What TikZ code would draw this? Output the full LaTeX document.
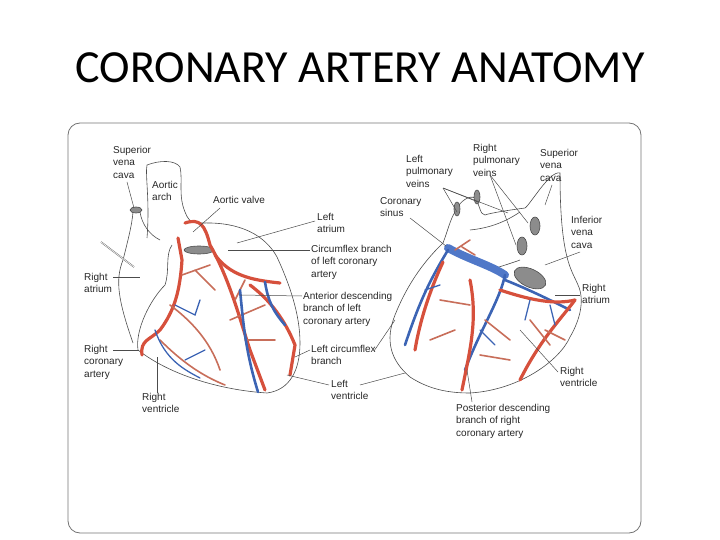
\documentclass[tikz,border=0pt]{standalone}
\usepackage{fontspec}
\setmainfont{Liberation Sans}
\newfontfamily\titlefont{Carlito}
\begin{document}
\begin{tikzpicture}[x=1pt,y=-1pt,
  lbl/.style={anchor=north west,align=left,font=\fontsize{10}{12.3}\selectfont,inner sep=0pt,text=black!85},
  lead/.style={black!70,line width=0.5pt},
  outl/.style={black!70,line width=0.6pt},
  art/.style={line width=3.2pt,line cap=round,line join=round,color={rgb,255:red,214;green,80;blue,60}},
  artt/.style={line width=1.6pt,line cap=round,color={rgb,255:red,200;green,110;blue,90}},
  vein/.style={line width=2.6pt,line cap=round,line join=round,color={rgb,255:red,60;green,100;blue,180}},
  veint/.style={line width=1.3pt,line cap=round,color={rgb,255:red,60;green,100;blue,180}},
  hole/.style={draw=black!70,fill=black!45,line width=0.6pt}]
\useasboundingbox (0,0) rectangle (720,540);
\node[font=\titlefont\fontsize{46}{48}\selectfont] (title) at (360,68) {CORONARY ARTERY ANATOMY};
\draw[black!55,line width=0.8pt,rounded corners=12pt] (68,123) rectangle (641,533);
% ---------- left heart ----------
\draw[outl] (133,343) .. controls (118,300) and (115,280) .. (123,260) .. controls (128,240) and (132,225) .. (133,212);
\draw[outl] (140,212) .. controls (142,225) and (150,235) .. (160,240);
\draw[hole] (136,210) ellipse (6 and 3);
\draw[outl] (147,238) .. controls (150,200) and (145,175) .. (147,165) .. controls (160,160) and (175,160) .. (180,167) .. controls (183,180) and (178,195) .. (185,212) .. controls (190,225) and (195,222) .. (203,223);
\draw[outl] (203,223) .. controls (240,222) and (265,235) .. (277,257) .. controls (290,285) and (300,315) .. (300,343) .. controls (300,370) and (290,390) .. (267,393) .. controls (220,390) and (170,375) .. (138,350) .. controls (135,330) and (150,300) .. (165,285) .. controls (170,270) and (165,255) .. (172,245);
\draw[hole] (199,250) ellipse (15 and 4);
\draw[black!60,line width=1.5pt] (101,242) -- (134,267);
\draw[white,line width=0.6pt] (101,242) -- (134,267);
\draw[art] (178,238) -- (182,260) .. controls (180,290) and (175,310) .. (160,330) .. controls (150,340) and (140,340) .. (142,355);
\draw[art] (185,223) .. controls (200,218) and (205,225) .. (210,245) .. controls (230,280) and (240,320) .. (250,350) -- (265,390);
\draw[art] (215,255) .. controls (230,275) and (250,280) .. (280,283);
\draw[art] (250,285) .. controls (270,300) and (285,320) .. (295,345) -- (290,375);
\draw[artt] (182,275) -- (210,265) (195,270) -- (215,290);
\draw[artt] (170,305) .. controls (190,320) and (210,340) .. (220,370);
\draw[artt] (160,340) .. controls (180,360) and (200,375) .. (225,385);
\draw[artt] (230,320) -- (265,305) (245,340) -- (275,340) (235,300) -- (245,280);
\draw[vein] (240,290) .. controls (243,320) and (245,350) .. (258,392);
\draw[vein] (265,282) .. controls (268,300) and (272,310) .. (285,325);
\draw[veint] (155,330) .. controls (165,360) and (185,370) .. (200,378) (175,305) -- (195,315) -- (200,300) (185,360) -- (205,350);
% ---------- right heart ----------
\draw[outl] (410,377) .. controls (390,360) and (385,340) .. (395,315) .. controls (405,290) and (420,265) .. (443,243);
\draw[outl] (410,377) .. controls (430,390) and (450,393) .. (470,393) .. controls (520,390) and (560,360) .. (570,337) .. controls (580,320) and (585,300) .. (578,285) .. controls (572,270) and (560,260) .. (560,173) .. controls (550,170) and (530,205) .. (525,208) .. controls (510,210) and (490,213) .. (485,215);
\draw[outl] (443,243) .. controls (448,230) and (450,220) .. (455,212) .. controls (460,200) and (470,195) .. (475,198) .. controls (480,205) and (480,215) .. (485,215);
\draw[outl] (470,230) .. controls (490,228) and (505,222) .. (520,212);
\draw[outl] (490,270) .. controls (505,265) and (515,262) .. (520,260);
\draw[hole] (457,209) ellipse (3 and 7);
\draw[hole] (477,197) ellipse (3 and 7);
\draw[hole] (535,226) ellipse (5 and 9);
\draw[hole] (522,246) ellipse (5 and 9);
\draw[hole,rotate around={-25:(530,278)}] (530,278) ellipse (17 and 9);
\draw[line width=8pt,line cap=round,color={rgb,255:red,80;green,120;blue,200}] (448,248) .. controls (470,260) and (490,265) .. (505,275);
\draw[vein] (448,250) .. controls (430,280) and (420,300) .. (405,345);
\draw[vein] (505,275) .. controls (500,300) and (480,330) .. (465,370);
\draw[vein] (505,280) .. controls (530,290) and (550,300) .. (570,310);
\draw[art] (443,262) .. controls (430,290) and (420,320) .. (415,350);
\draw[art] (470,280) .. controls (478,320) and (470,350) .. (462,390);
\draw[art] (500,290) .. controls (530,300) and (555,305) .. (575,300);
\draw[art] (575,300) .. controls (560,320) and (540,340) .. (520,380);
\draw[artt] (455,250) -- (470,240) (462,247) -- (475,255) (440,300) -- (470,305) (485,320) -- (510,340) (430,340) -- (455,330) (480,355) -- (510,360) (530,320) -- (550,345) (545,330) -- (565,340);
\draw[veint] (425,290) -- (440,285) (480,330) -- (495,345) (530,300) -- (525,320) (550,305) -- (555,325);
% ---------- labels left ----------
\node[lbl] (svcL) at (113,146) {Superior\\vena\\cava};
\node[lbl] (aarch) at (152,181) {Aortic\\arch};
\node[lbl] (avalve) at (213,196) {Aortic valve};
\node[lbl] (latr) at (317,213) {Left\\atrium};
\node[lbl] (circ) at (311,245) {Circumflex branch\\of left coronary\\artery};
\node[lbl] (ratrL) at (84,273) {Right\\atrium};
\node[lbl] (ant) at (303,292) {Anterior descending\\branch of left\\coronary artery};
\node[lbl] (rca) at (84,345) {Right\\coronary\\artery};
\node[lbl] (lcirc) at (311,345) {Left circumflex\\branch};
\node[lbl] (lvent) at (331,380) {Left\\ventricle};
\node[lbl] (rventL) at (142,393) {Right\\ventricle};
\coordinate (svcLp) at (134,208); \draw[lead] (127,182) -- (svcLp);
\coordinate (avp) at (193,232); \draw[lead] (220,208) -- (avp);
\coordinate (latp) at (237,243); \draw[lead] (315,221) -- (latp);
\coordinate (circp) at (228,250); \draw[lead] (310,250) -- (circp);
\coordinate (ratp) at (140,277); \draw[lead] (113,277) -- (ratp);
\coordinate (antp) at (240,295); \draw[lead] (302,296) -- (antp);
\coordinate (rcap) at (139,350); \draw[lead] (113,350) -- (rcap);
\coordinate (lcp) at (295,357); \draw[lead] (310,350) -- (lcp);
\coordinate (lvp) at (287,375); \draw[lead] (329,385) -- (lvp);
\coordinate (rvp) at (157,357); \draw[lead] (157,393) -- (rvp);
% ---------- labels right ----------
\node[lbl] (lpv) at (406,155) {Left\\pulmonary\\veins};
\node[lbl] (rpv) at (473,144) {Right\\pulmonary\\veins};
\node[lbl] (svcR) at (540,149) {Superior\\vena\\cava};
\node[lbl] (cs) at (380,197) {Coronary\\sinus};
\node[lbl] (ivc) at (571,216) {Inferior\\vena\\cava};
\node[lbl] (ratrR) at (582,284) {Right\\atrium};
\node[lbl] (rventR) at (560,367) {Right\\ventricle};
\node[lbl] (pda) at (456,404) {Posterior descending\\branch of right\\coronary artery};
\coordinate (lpv1) at (457,212); \coordinate (lpv2) at (478,202);
\draw[lead] (443,188) -- (lpv1); \draw[lead] (443,188) -- (lpv2); \draw[lead] (443,188) -- (508,213);
\coordinate (rpv1) at (528,223); \coordinate (rpv2) at (516,245);
\draw[lead] (490,175) -- (rpv2); \draw[lead] (490,175) -- (rpv1);
\coordinate (svcRp) at (545,205); \draw[lead] (552,185) -- (svcRp);
\coordinate (csp) at (446,246); \draw[lead] (410,218) -- (csp);
\coordinate (ivcp) at (545,265); \draw[lead] (580,252) -- (ivcp);
\coordinate (ratRp) at (555,295); \draw[lead] (580,295) -- (ratRp);
\coordinate (rvRp) at (520,330); \draw[lead] (558,372) -- (rvRp);
\coordinate (pdap) at (467,370); \draw[lead] (472,402) -- (pdap);
\coordinate (lcpR) at (395,320); \draw[lead] (374,351) -- (lcpR);
\coordinate (lvpR) at (405,373); \draw[lead] (360,385) -- (lvpR);
\end{tikzpicture}
\end{document}
